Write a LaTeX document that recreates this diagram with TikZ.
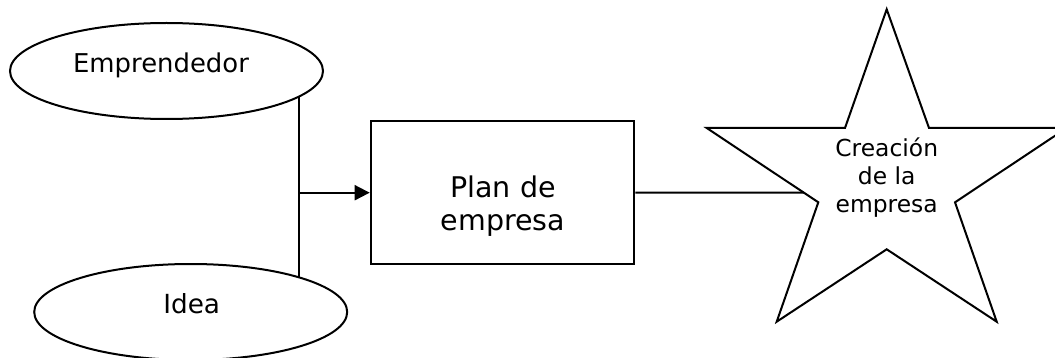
\documentclass[tikz,border=0pt]{standalone}
\usepackage{fontspec}
\setmainfont{DejaVu Sans}
\usetikzlibrary{shapes.geometric,arrows.meta,calc}

\tikzset{
  stroke/.style={draw=black, line width=2pt},
  oval/.style={stroke, ellipse, inner sep=0pt, minimum width=313pt, minimum height=96pt},
  box/.style={stroke, rectangle, inner sep=0pt, minimum width=263.6pt, minimum height=143.3pt},
  txt/.style={inner sep=0pt, anchor=base, text=black},
  link/.style={draw=black, line width=2pt},
  arrowlink/.style={link, -{Triangle[length=15pt,width=15pt]}},
}

\begin{document}
\begin{tikzpicture}[x=1pt, y=-1pt]
  % page area
  \useasboundingbox (0,0) rectangle (1055,358);
  \fill[white] (0,0) rectangle (1055,358);
  \clip (0,0) rectangle (1055,358);

  % inputs
  \node[oval] (emp) at (166.5,71) {};
  \node[txt, font=\fontsize{25.9}{30}\selectfont] (emptext) at (161,72.5) {Emprendedor};

  \node[oval] (idea) at (190.7,312) {};
  \node[txt, font=\fontsize{26.3}{31}\selectfont] (ideatext) at (191.7,313.3) {Idea};

  % business plan
  \node[box] (plan) at (502.5,192.4) {};
  \node[txt, font=\fontsize{28.5}{33}\selectfont] (planA) at (503,197.3) {Plan de};
  \node[txt, font=\fontsize{28.5}{33}\selectfont] (planB) at (503,231) {empresa};

  % star outline
  \coordinate (sT)  at (886.7,9.3);
  \coordinate (sUL) at (845,128);
  \coordinate (sL)  at (706.7,128);
  \coordinate (sLL) at (818.3,202.3);
  \coordinate (sBL) at (776.7,321.7);
  \coordinate (sB)  at (886.7,249.3);
  \coordinate (sBR) at (996.7,321.7);
  \coordinate (sLR) at (955,202.3);
  \coordinate (sR)  at (1066.7,128);
  \coordinate (sUR) at (929,128);
  \draw[stroke, line join=miter] (sT) -- (sUL) -- (sL) -- (sLL) -- (sBL) -- (sB)
        -- (sBR) -- (sLR) -- (sR) -- (sUR) -- cycle;
  \node[txt, font=\fontsize{23.4}{28}\selectfont] (starA) at (886.7,156.5) {Creación};
  \node[txt, font=\fontsize{23.4}{28}\selectfont] (starB) at (886.7,184.5) {de la};
  \node[txt, font=\fontsize{23.4}{28}\selectfont] (starC) at (886.7,212.5) {empresa};

  % connectors
  \coordinate (jtop) at (299.3,96.7);
  \coordinate (jbot) at (299.3,277.3);
  \coordinate (jmid) at (299.3,192.7);
  \coordinate (starin) at ($(sL)!0.871!(sLL)$);

  \draw[link] (jtop) -- (jbot);
  \draw[arrowlink] (jmid) -- (plan.west |- jmid);
  \draw[link] (plan.east |- jmid) -- (starin);
\end{tikzpicture}
\end{document}
